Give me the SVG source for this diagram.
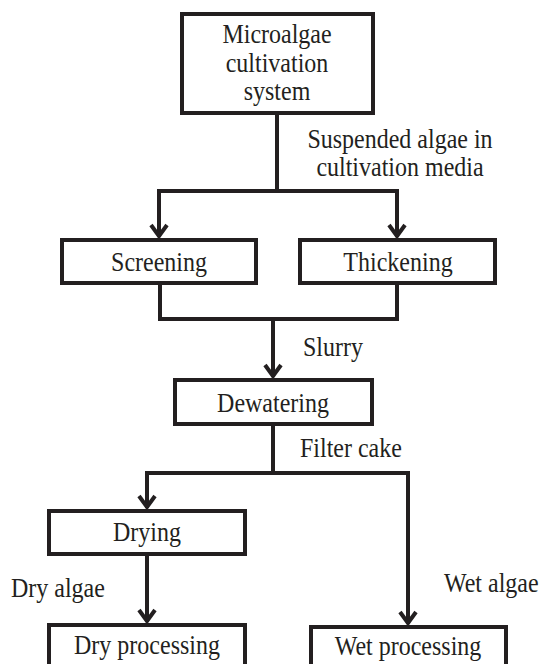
<svg xmlns="http://www.w3.org/2000/svg" width="541" height="664" viewBox="0 0 541 664">
<style>
.box{fill:#fff;stroke:#231f20;stroke-width:4}
.ln{fill:none;stroke:#231f20;stroke-width:4}
.t{font-family:"Liberation Serif","Times New Roman",serif;font-size:24px;fill:#231f20}
.m{text-anchor:middle}
</style>
<defs>
<marker id="ah" viewBox="-16 -12 20 24" refX="0" refY="0" markerWidth="20" markerHeight="24" markerUnits="userSpaceOnUse" orient="auto">
<path d="M-12,-8 L-1,0 L-12,8" fill="none" stroke="#231f20" stroke-width="4" stroke-linejoin="miter"/>
</marker>
</defs>
<rect width="541" height="664" fill="#fff"/>
<g id="connectors">
<polyline class="ln" points="277,114 277,191"/>
<polyline class="ln" points="159,191 399,191"/>
<polyline class="ln" points="159,189 159,237" marker-end="url(#ah)"/>
<polyline class="ln" points="397,189 397,237" marker-end="url(#ah)"/>
<polyline class="ln" points="160,284 160,319 397,319 397,284"/>
<polyline class="ln" points="273,319 273,377" marker-end="url(#ah)"/>
<polyline class="ln" points="273,425 273,473"/>
<polyline class="ln" points="146,473 408,473"/>
<polyline class="ln" points="147,471 147,508" marker-end="url(#ah)"/>
<polyline class="ln" points="408,471 408,624" marker-end="url(#ah)"/>
<polyline class="ln" points="147,555 147,622" marker-end="url(#ah)"/>
<text class="t m" transform="translate(400,148) scale(1,1.1)">Suspended algae in</text>
<text class="t m" transform="translate(400,176) scale(1,1.1)">cultivation media</text>
<text class="t" transform="translate(303,356) scale(1,1.1)">Slurry</text>
<text class="t" transform="translate(300,457) scale(1,1.1)">Filter cake</text>
<text class="t" transform="translate(11,597) scale(1,1.1)">Dry algae</text>
<text class="t" transform="translate(444,592) scale(1,1.1)">Wet algae</text>
</g>
<g id="node-cultivation">
<rect class="box" x="182" y="14" width="191" height="99"/>
<text class="t m" transform="translate(277,43) scale(1,1.1)">Microalgae</text>
<text class="t m" transform="translate(277,72) scale(1,1.1)">cultivation</text>
<text class="t m" transform="translate(277,100) scale(1,1.1)">system</text>
</g>
<g id="node-screening">
<rect class="box" x="62" y="240" width="194" height="43"/>
<text class="t m" transform="translate(159,271) scale(1,1.1)">Screening</text>
</g>
<g id="node-thickening">
<rect class="box" x="300" y="240" width="195" height="43"/>
<text class="t m" transform="translate(398,271) scale(1,1.1)">Thickening</text>
</g>
<g id="node-dewatering">
<rect class="box" x="175" y="380" width="197" height="44"/>
<text class="t m" transform="translate(273,412) scale(1,1.1)">Dewatering</text>
</g>
<g id="node-drying">
<rect class="box" x="49" y="511" width="196" height="43"/>
<text class="t m" transform="translate(147,541) scale(1,1.1)">Drying</text>
</g>
<g id="node-dry-processing">
<rect class="box" x="49" y="625" width="196" height="50"/>
<text class="t m" transform="translate(147,654) scale(1,1.1)">Dry processing</text>
</g>
<g id="node-wet-processing">
<rect class="box" x="311" y="627" width="195" height="50"/>
<text class="t m" transform="translate(408,655) scale(1,1.1)">Wet processing</text>
</g>
</svg>
